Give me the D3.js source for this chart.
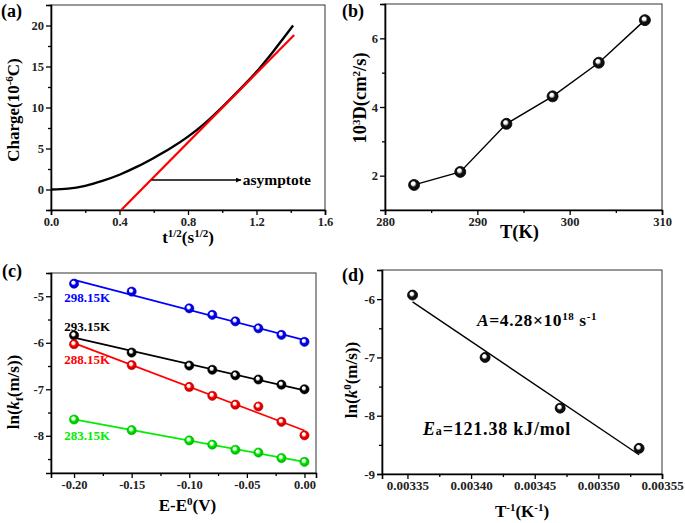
<!DOCTYPE html>
<html>
<head>
<meta charset="utf-8">
<script src="https://cdn.jsdelivr.net/npm/d3@7"></script>
<style>
  body { margin: 0; background: #fff; }
  svg text { font-family: "Liberation Serif", "Times New Roman", serif; font-weight: bold; }
</style>
</head>
<body>
<div id="chart"></div>
<script>
// (a) chronocoulometry charge vs t^1/2
const chargeT = [0, 0.1, 0.2, 0.3, 0.4, 0.5, 0.6, 0.7, 0.8, 0.9, 1.0, 1.1, 1.2, 1.3, 1.414];
const chargeQ = [0, 0.1, 0.45, 1.05, 1.8, 2.75, 3.85, 5.05, 6.45, 8.1, 10.05, 12.15, 14.35, 16.9, 20.0];
const asymT = [0.41, 1.42];
const asymQ = [-2.5, 18.85];

// (b) diffusion coefficient vs temperature
const tempK = [283.15, 288.15, 293.15, 298.15, 303.15, 308.15];
const diffD = [1.73, 2.11, 3.51, 4.31, 5.29, 6.53];

// (c) ln(kf) vs overpotential
const potential = [-0.2, -0.15, -0.1, -0.08, -0.06, -0.04, -0.02, 0];
const kfSeries = [
  { name: "298.15K", color: "#0000ff", vals: [-4.73, -4.90, -5.26, -5.40, -5.54, -5.69, -5.83, -5.98], lx: -0.2085, ly: -5.12 },
  { name: "293.15K", color: "#000000", vals: [-5.84, -6.21, -6.49, -6.58, -6.70, -6.79, -6.90, -7.00], lx: -0.2085, ly: -5.75 },
  { name: "288.15K", color: "#ff0000", vals: [-6.03, -6.48, -6.95, -7.14, -7.33, -7.37, -7.70, -7.99], lx: -0.2085, ly: -6.46 },
  { name: "283.15K", color: "#00ee00", vals: [-7.65, -7.88, -8.10, -8.19, -8.30, -8.36, -8.48, -8.56], lx: -0.2085, ly: -8.09 }
];

// (d) Arrhenius plot
const invT = [0.003354, 0.003411, 0.003470, 0.003532];
const lnK0 = [-5.93, -7.00, -7.87, -8.56];

const svg = d3.select("#chart").append("svg")
  .attr("width", 685).attr("height", 523);

const defs = svg.append("defs");
function ballGrad(id, color) {
  const g = defs.append("radialGradient").attr("id", id)
    .attr("cx", "50%").attr("cy", "50%").attr("r", "55%")
    .attr("fx", "38%").attr("fy", "32%");
  g.append("stop").attr("offset", "0%").attr("stop-color", "#fff");
  g.append("stop").attr("offset", "28%").attr("stop-color", "#fff").attr("stop-opacity", 0.9);
  g.append("stop").attr("offset", "52%").attr("stop-color", color);
  g.append("stop").attr("offset", "100%").attr("stop-color", d3.color(color).darker(1.2));
}
ballGrad("ball-k", "#111");
kfSeries.forEach((s, i) => ballGrad("ball-" + i, s.color));

defs.append("marker").attr("id", "arrow")
  .attr("viewBox", "0 0 10 10").attr("refX", 10).attr("refY", 5)
  .attr("markerWidth", 10).attr("markerHeight", 5).attr("markerUnits", "userSpaceOnUse")
  .attr("orient", "auto")
  .append("path").attr("d", "M0,0L10,5L0,10Z").attr("fill", "#000");

function panel(c) {
  const g = svg.append("g");
  const x = d3.scaleLinear().domain(c.xd).range([c.x0, c.x1]);
  const y = d3.scaleLinear().domain(c.yd).range([c.y1, c.y0]);

  defs.append("clipPath").attr("id", "clip-" + c.id)
    .append("rect").attr("x", c.x0).attr("y", c.y0)
    .attr("width", c.x1 - c.x0).attr("height", c.y1 - c.y0);

  g.append("rect").attr("x", c.x0).attr("y", c.y0)
    .attr("width", c.x1 - c.x0).attr("height", c.y1 - c.y0)
    .attr("fill", "none").attr("stroke", "#333").attr("stroke-width", 1);

  g.append("g").attr("transform", `translate(0,${c.y1})`)
    .call(d3.axisBottom(x).tickValues(c.xt).tickFormat(c.xf).tickSize(5).tickPadding(2));
  g.append("g").attr("transform", `translate(0,${c.y1})`)
    .call(d3.axisBottom(x).tickValues(c.xm).tickFormat("").tickSize(3))
    .select(".domain").remove();
  g.append("g").attr("transform", `translate(${c.x0},0)`)
    .call(d3.axisLeft(y).tickValues(c.yt).tickFormat(c.yf).tickSize(5).tickPadding(2));
  g.append("g").attr("transform", `translate(${c.x0},0)`)
    .call(d3.axisLeft(y).tickValues(c.ym).tickFormat("").tickSize(3))
    .select(".domain").remove();

  g.selectAll(".domain").attr("stroke", "#000").attr("stroke-width", 1.6);
  g.selectAll(".tick line").attr("stroke", "#000").attr("stroke-width", 1.3);
  g.selectAll(".tick text").attr("font-size", c.tf || 12.5).attr("fill", "#222")
    .attr("font-family", "Liberation Serif, serif").attr("font-weight", "bold");

  g.append("text").attr("x", (c.x0 + c.x1) / 2 + (c.xtdx || 0)).attr("y", c.xty)
    .attr("text-anchor", "middle").attr("font-size", c.tts || 17).html(c.xtitle);
  g.append("text").attr("transform", `translate(${c.ytx},${c.yty}) rotate(-90)`)
    .attr("text-anchor", "middle").attr("font-size", c.tts || 17).html(c.ytitle);
  g.append("text").attr("x", c.lx).attr("y", c.ly).attr("font-size", 18).text(c.label);

  const plot = g.append("g").attr("clip-path", `url(#clip-${c.id})`);
  return { x, y, g, plot };
}

const sup = (t) => `<tspan dy="-6" font-size="11">${t}</tspan>`;
const back = (t) => `<tspan dy="6">${t}</tspan>`;

// ---- (a)
const pa = panel({
  id: "a", x0: 51, x1: 325, y0: 5, y1: 210,
  xd: [0, 1.6], yd: [-2.5, 22.5],
  xt: [0, 0.4, 0.8, 1.2, 1.6], xm: [0.2, 0.6, 1.0, 1.4], xf: d => d.toFixed(1),
  yt: [0, 5, 10, 15, 20], ym: [-2.5, 2.5, 7.5, 12.5, 17.5, 22.5], yf: d => d,
  xtitle: "t" + sup("1/2") + back("(s") + sup("1/2") + back(")"), xty: 243,
  ytitle: "Charge(10" + sup("-6") + back("C)"), ytx: 19, yty: 110,
  label: "(a)", lx: 1, ly: 17
});
const chargeData = chargeT.map((t, i) => [t, chargeQ[i]]);
pa.plot.append("path").datum(chargeData)
  .attr("fill", "none").attr("stroke", "#000").attr("stroke-width", 2.4)
  .attr("d", d3.line().x(d => pa.x(d[0])).y(d => pa.y(d[1])).curve(d3.curveMonotoneX));
pa.plot.append("path").datum(asymT.map((t, i) => [t, asymQ[i]]))
  .attr("fill", "none").attr("stroke", "#ff0000").attr("stroke-width", 2.2)
  .attr("d", d3.line().x(d => pa.x(d[0])).y(d => pa.y(d[1])));
pa.g.append("line")
  .attr("x1", pa.x(0.587)).attr("x2", pa.x(1.11))
  .attr("y1", pa.y(1.15)).attr("y2", pa.y(1.15))
  .attr("stroke", "#000").attr("stroke-width", 1.5).attr("marker-end", "url(#arrow)");
pa.g.append("text").attr("x", pa.x(1.12)).attr("y", pa.y(1.15) + 4.5)
  .attr("font-size", 15.5).text("asymptote");

// ---- (b)
const pb = panel({
  id: "b", x0: 385, x1: 662, y0: 4, y1: 210,
  xd: [280, 310], yd: [1, 7],
  xt: [280, 290, 300, 310], xm: [285, 295, 305], xf: d => d,
  yt: [2, 4, 6], ym: [1, 3, 5, 7], yf: d => d,
  xtitle: "T(K)", xty: 238, xtdx: -4, tts: 18.5,
  ytitle: "10" + sup("3") + back("D(cm") + sup("2") + back("/s)"), ytx: 366, yty: 98,
  label: "(b)", lx: 342, ly: 17
});
const bData = tempK.map((t, i) => [t, diffD[i]]);
pb.plot.append("path").datum(bData)
  .attr("fill", "none").attr("stroke", "#000").attr("stroke-width", 1.4)
  .attr("d", d3.line().x(d => pb.x(d[0])).y(d => pb.y(d[1])));
pb.g.selectAll("circle.pt").data(bData).join("circle").attr("class", "pt")
  .attr("cx", d => pb.x(d[0])).attr("cy", d => pb.y(d[1])).attr("r", 5.5)
  .attr("fill", "url(#ball-k)").attr("stroke", "#000").attr("stroke-width", 0.8);

// ---- (c)
const pc = panel({
  id: "c", x0: 51, x1: 316, y0: 273, y1: 473,
  xd: [-0.22, 0.01], yd: [-8.8, -4.5],
  xt: [-0.2, -0.15, -0.1, -0.05, 0], xm: [-0.175, -0.125, -0.075, -0.025], xf: d => d.toFixed(2),
  yt: [-8, -7, -6, -5], ym: [-8.5, -7.5, -6.5, -5.5, -4.5], yf: d => String(d),
  xtitle: "E-E" + sup("0") + back("(V)"), xty: 511, xtdx: 4,
  ytitle: 'ln(<tspan font-style="italic">k</tspan><tspan dy="4" font-size="11">f</tspan><tspan dy="-4">(m/s))</tspan>',
  ytx: 19, yty: 392,
  label: "(c)", lx: 2, ly: 277
});
function fit(xs, ys) {
  const mx = d3.mean(xs), my = d3.mean(ys);
  const b = d3.sum(xs, (v, i) => (v - mx) * (ys[i] - my)) / d3.sum(xs, v => (v - mx) * (v - mx));
  return v => my + b * (v - mx);
}
kfSeries.forEach((s, i) => {
  const f = fit(potential, s.vals);
  const ext = d3.extent(potential);
  pc.plot.append("line")
    .attr("x1", pc.x(ext[0])).attr("y1", pc.y(f(ext[0])))
    .attr("x2", pc.x(ext[1])).attr("y2", pc.y(f(ext[1])))
    .attr("stroke", s.color).attr("stroke-width", 1.8);
  pc.g.selectAll("circle.s" + i).data(potential).join("circle").attr("class", "s" + i)
    .attr("cx", d => pc.x(d)).attr("cy", (d, j) => pc.y(s.vals[j])).attr("r", 4.6)
    .attr("fill", `url(#ball-${i})`).attr("stroke", d3.color(s.color).darker(0.6)).attr("stroke-width", 0.6);
  pc.g.append("text").attr("x", pc.x(s.lx)).attr("y", pc.y(s.ly))
    .attr("font-size", 13).attr("fill", s.color).text(s.name);
});

// ---- (d)
const pd = panel({
  id: "d", x0: 382, x1: 662, y0: 270, y1: 474,
  xd: [0.00333, 0.00355], yd: [-9, -5.5],
  xt: [0.00335, 0.0034, 0.00345, 0.0035, 0.00355], xm: [0.003375, 0.003425, 0.003475, 0.003525],
  xf: d => d.toFixed(5), tf: 13,
  yt: [-9, -8, -7, -6], ym: [-8.5, -7.5, -6.5, -5.5], yf: d => String(d),
  xtitle: "T" + sup("-1") + back("(K") + sup("-1") + back(")"), xty: 517,
  ytitle: 'ln(<tspan font-style="italic">k</tspan>' + sup("0") + back("(m/s))"), ytx: 357, yty: 380,
  label: "(d)", lx: 342, ly: 281
});
const fd = fit(invT, lnK0);
const dExt = d3.extent(invT);
pd.plot.append("line")
  .attr("x1", pd.x(dExt[0])).attr("y1", pd.y(fd(dExt[0])))
  .attr("x2", pd.x(dExt[1])).attr("y2", pd.y(fd(dExt[1])))
  .attr("stroke", "#000").attr("stroke-width", 1.4);
pd.g.selectAll("circle.pt").data(invT).join("circle").attr("class", "pt")
  .attr("cx", d => pd.x(d)).attr("cy", (d, i) => pd.y(lnK0[i])).attr("r", 5)
  .attr("fill", "url(#ball-k)").attr("stroke", "#000").attr("stroke-width", 0.8);
pd.g.append("text").attr("x", 477).attr("y", 326).attr("font-size", 17.5).attr("letter-spacing", 0.6)
  .html('<tspan font-style="italic">A</tspan>=4.28×10<tspan dy="-6" font-size="11">18</tspan><tspan dy="6"> s</tspan><tspan dy="-6" font-size="11">-1</tspan>');
pd.g.append("text").attr("x", 423).attr("y", 435).attr("font-size", 18).attr("letter-spacing", 0.8)
  .html('<tspan font-style="italic">E</tspan><tspan font-size="12">a</tspan>=121.38 kJ/mol');
</script>
</body>
</html>
